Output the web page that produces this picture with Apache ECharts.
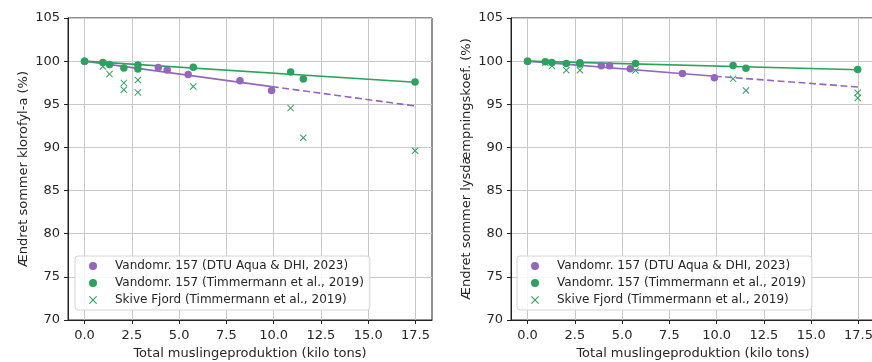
<!DOCTYPE html>
<html>
<head>
<meta charset="utf-8">
<script src="https://cdn.jsdelivr.net/npm/echarts@6/dist/echarts.min.js"></script>
<style>
  html, body {margin: 0; padding: 0; background: #fff;}
  #chart {width: 872px; height: 362px;}
</style>
</head>
<body>
<div id="chart"></div>
<script>
// x tick labels shared by both panels
var xTicks = [0, 2.5, 5, 7.5, 10, 12.5, 15, 17.5];

// left panel: klorofyl-a
var chlDtuX = [0, 3.9, 4.37, 5.48, 8.22, 9.89];
var chlDtuY = [100, 99.27, 98.96, 98.46, 97.72, 96.6];
var chlTimX = [0, 0.97, 1.32, 2.08, 2.82, 2.82, 5.75, 10.9, 11.57, 17.48];
var chlTimY = [100, 99.85, 99.6, 99.2, 99.54, 99.08, 99.3, 98.73, 97.92, 97.57];
var chlSkiveX = [0.97, 1.32, 2.08, 2.08, 2.82, 2.82, 5.75, 10.9, 11.57, 17.48];
var chlSkiveY = [99.38, 98.5, 97.48, 96.68, 97.82, 96.38, 97.06, 94.56, 91.12, 89.62];
var chlTimFitX = [0, 17.5];
var chlTimFitY = [100, 97.55];
var chlDtuFitX = [0, 9.9];
var chlDtuFitY = [100, 97.05];
var chlDtuExtX = [9.9, 17.5];
var chlDtuExtY = [97.05, 94.8];

// right panel: lysdaempningskoef.
var lysDtuX = [0, 3.9, 4.34, 5.43, 8.19, 9.88];
var lysDtuY = [100, 99.46, 99.46, 99.11, 98.58, 98.07];
var lysTimX = [0, 0.94, 1.29, 2.05, 2.77, 2.77, 5.71, 10.87, 11.55, 17.46];
var lysTimY = [100, 99.92, 99.85, 99.73, 99.8, 99.68, 99.73, 99.5, 99.19, 99.04];
var lysSkiveX = [0.94, 1.29, 2.05, 2.77, 5.71, 10.87, 11.55, 17.46, 17.46];
var lysSkiveY = [99.8, 99.45, 98.94, 98.94, 98.92, 97.95, 96.6, 96.33, 95.72];
var lysTimFitX = [0, 17.5];
var lysTimFitY = [100, 99.0];
var lysDtuFitX = [0, 9.9];
var lysDtuFitY = [100, 98.25];
var lysDtuExtX = [9.9, 17.5];
var lysDtuExtY = [98.25, 97.0];

var names = ['Vandomr. 157 (DTU Aqua & DHI, 2023)', 'Vandomr. 157 (Timmermann et al., 2019)', 'Skive Fjord (Timmermann et al., 2019)'];
var yTitles = ['Ændret sommer klorofyl-a (%)', 'Ændret sommer lysdæmpningskoef. (%)'];

var purple = '#9467bd';
var green = '#2ca25f';
var textColor = '#262626';
var font = 'DejaVu Sans';
var crossPath = 'path://M1,0 L5,4 L9,0 L10,1 L6,5 L10,9 L9,10 L5,6 L1,10 L0,9 L4,5 L0,1 Z';

function pairs(xs, ys) {
  return xs.map(function (x, i) { return [x, ys[i]]; });
}

function xAxisFor(idx) {
  return {
    type: 'value', gridIndex: idx, min: -0.875, max: 18.375,
    name: 'Total muslingeproduktion (kilo tons)', nameLocation: 'middle', nameGap: 27,
    nameTextStyle: {color: textColor, fontFamily: font, fontSize: 13},
    axisLine: {show: true, onZero: false, lineStyle: {color: '#222', width: 1}},
    axisTick: {show: true, customValues: xTicks, length: 4, lineStyle: {color: '#222'}},
    axisLabel: {customValues: xTicks, color: textColor, fontFamily: font, fontSize: 13, margin: 9,
      formatter: function (v) { return v.toFixed(1); }},
    splitLine: {show: true, customValues: xTicks, lineStyle: {color: '#c8c8c8', width: 1}}
  };
}

function yAxisFor(idx) {
  return {
    type: 'value', gridIndex: idx, min: 70, max: 105, interval: 5,
    name: yTitles[idx], nameLocation: 'middle', nameGap: 38,
    nameTextStyle: {color: textColor, fontFamily: font, fontSize: 13},
    axisLine: {show: true, onZero: false, lineStyle: {color: '#222', width: 1}},
    axisTick: {show: true, length: 4, lineStyle: {color: '#222'}},
    axisLabel: {color: textColor, fontFamily: font, fontSize: 13, margin: 8},
    splitLine: {show: true, lineStyle: {color: '#c8c8c8', width: 1}}
  };
}

function legendFor(left) {
  return {
    data: names, orient: 'vertical', left: left, top: 256,
    padding: [4, 6, 4, 14], itemGap: 5, itemWidth: 8, itemHeight: 8,
    backgroundColor: 'rgba(255,255,255,0.85)', borderColor: '#d4d4d4', borderWidth: 1, borderRadius: 3,
    selectedMode: false,
    textStyle: {color: textColor, fontFamily: font, fontSize: 12, padding: [0, 0, 0, 13]}
  };
}

function panelSeries(idx, d) {
  return [
    {name: 'fitDtu' + idx, type: 'line', xAxisIndex: idx, yAxisIndex: idx, data: pairs(d.dtuFitX, d.dtuFitY),
      symbol: 'none', lineStyle: {color: purple, width: 1.6}, silent: true, z: 2},
    {name: 'extDtu' + idx, type: 'line', xAxisIndex: idx, yAxisIndex: idx, data: pairs(d.dtuExtX, d.dtuExtY),
      symbol: 'none', lineStyle: {color: purple, width: 1.6, type: [7, 3.5]}, silent: true, z: 2},
    {name: 'fitTim' + idx, type: 'line', xAxisIndex: idx, yAxisIndex: idx, data: pairs(d.timFitX, d.timFitY),
      symbol: 'none', lineStyle: {color: green, width: 1.6}, silent: true, z: 2},
    {name: names[0], type: 'scatter', xAxisIndex: idx, yAxisIndex: idx, data: pairs(d.dtuX, d.dtuY),
      symbol: 'circle', symbolSize: 7.5, itemStyle: {color: purple, opacity: 1}, z: 3},
    {name: names[1], type: 'scatter', xAxisIndex: idx, yAxisIndex: idx, data: pairs(d.timX, d.timY),
      symbol: 'circle', symbolSize: 7.5, itemStyle: {color: green, opacity: 1}, z: 4},
    {name: names[2], type: 'scatter', xAxisIndex: idx, yAxisIndex: idx, data: pairs(d.skX, d.skY),
      symbol: crossPath, symbolSize: 7, itemStyle: {color: green, opacity: 1}, z: 5}
  ];
}

var chart = echarts.init(document.getElementById('chart'), null, {renderer: 'canvas'});

chart.setOption({
  backgroundColor: '#fff',
  animation: false,
  textStyle: {fontFamily: font},
  grid: [
    {left: 68, top: 18, width: 364, height: 302, outerBoundsMode: 'none', show: true,
      borderColor: '#222', borderWidth: 1, backgroundColor: 'transparent'},
    {left: 511, top: 18, width: 364, height: 302, outerBoundsMode: 'none', show: true,
      borderColor: '#222', borderWidth: 1, backgroundColor: 'transparent'}
  ],
  legend: [legendFor(75), legendFor(517)],
  xAxis: [xAxisFor(0), xAxisFor(1)],
  yAxis: [yAxisFor(0), yAxisFor(1)],
  series: panelSeries(0, {
    dtuX: chlDtuX, dtuY: chlDtuY, timX: chlTimX, timY: chlTimY, skX: chlSkiveX, skY: chlSkiveY,
    timFitX: chlTimFitX, timFitY: chlTimFitY, dtuFitX: chlDtuFitX, dtuFitY: chlDtuFitY,
    dtuExtX: chlDtuExtX, dtuExtY: chlDtuExtY
  }).concat(panelSeries(1, {
    dtuX: lysDtuX, dtuY: lysDtuY, timX: lysTimX, timY: lysTimY, skX: lysSkiveX, skY: lysSkiveY,
    timFitX: lysTimFitX, timFitY: lysTimFitY, dtuFitX: lysDtuFitX, dtuFitY: lysDtuFitY,
    dtuExtX: lysDtuExtX, dtuExtY: lysDtuExtY
  }))
});
</script>
</body>
</html>
